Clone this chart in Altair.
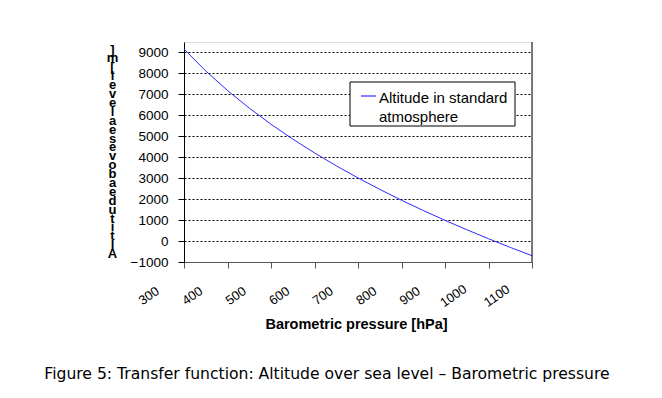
import altair as alt
import pandas as pd

# Data
pressure_hpa = [300, 350, 400, 450, 500, 550, 600, 650, 700, 750, 800, 850, 900, 950, 1000, 1050, 1100]
altitude_m = [9164, 8118, 7186, 6345, 5575, 4866, 4207, 3591, 3013, 2467, 1949, 1457, 989, 541, 111, -302, -698]
series_name = "Altitude in standard atmosphere"
legend_lines = ["Altitude in standard", "atmosphere"]
x_ticks = [300, 400, 500, 600, 700, 800, 900, 1000, 1100]
y_ticks = [-1000, 0, 1000, 2000, 3000, 4000, 5000, 6000, 7000, 8000, 9000]
y_title = "Altitude above sea level [m]"
x_title = "Barometric pressure [hPa]"
caption = "Figure 5: Transfer function: Altitude over sea level \u2013 Barometric pressure"

LINE_COLOR = "#2a2aff"
FONT = "Liberation Sans"

df = pd.DataFrame({"p": pressure_hpa, "h": altitude_m, "series": series_name})
tick_df = pd.DataFrame({"p": x_ticks, "lab": [str(v) for v in x_ticks]})

x_scale = alt.Scale(domain=[300, 1100], nice=False, zero=False)

x_enc = alt.X(
    "p:Q",
    scale=x_scale,
    axis=alt.Axis(
        values=x_ticks,
        title=x_title,
        titleFont=FONT, titleFontSize=14.5, titleFontWeight="bold", titleColor="#000",
        titleX=172, titleAlign="center", titleY=66, titleBaseline="alphabetic",
        labels=False,
        tickSize=6, tickColor="#555", domainColor="#555", grid=False,
    ),
)

y_enc = alt.Y(
    "h:Q",
    scale=alt.Scale(domain=[-1000, 9500], nice=False, zero=False),
    axis=alt.Axis(
        values=y_ticks, format="d",
        title=list(reversed(y_title)),
        titleAngle=0, titleX=-72, titleY=1, titleAlign="center", titleBaseline="top",
        titleLineHeight=8.9, titleFont=FONT, titleFontSize=13, titleFontWeight="bold", titleColor="#000",
        labelFont=FONT, labelFontSize=13.5, labelColor="#000", labelPadding=10,
        tickSize=6, tickColor="#000", domainColor="#000",
        grid=True, gridColor="#000", gridDash=[2, 2], gridWidth=1,
    ),
)

line = alt.Chart(df).mark_line(strokeWidth=1).encode(
    x=x_enc,
    y=y_enc,
    color=alt.Color("series:N", scale=alt.Scale(range=[LINE_COLOR]), legend=None),
)

xlabels = alt.Chart(tick_df).mark_text(
    font=FONT, fontSize=13, color="#000", angle=325, align="center", baseline="middle",
    xOffset=-35, yOffset=34,
).encode(x=alt.X("p:Q", scale=x_scale), y=alt.value(220), text="lab:N")

border = alt.Chart(pd.DataFrame({"p": [x_ticks[-1]]})).mark_rule(color="#000", strokeWidth=1).encode(
    x=alt.X("p:Q", scale=x_scale)
)

# legend box (drawn by hand so that the symbol sits on the first text line)
one = pd.DataFrame({"series": [series_name]})
leg_box = alt.Chart(one).mark_rect(fill="#fff", stroke="#000", strokeWidth=1).encode(
    x=alt.value(166), x2=alt.value(331), y=alt.value(40), y2=alt.value(84)
)
leg_sym = alt.Chart(one).mark_rule(color=LINE_COLOR, strokeWidth=1.2).encode(
    x=alt.value(177), x2=alt.value(192), y=alt.value(54)
)
leg_txt = alt.Chart(pd.DataFrame({"t": ["\n".join(legend_lines)]})).mark_text(
    font=FONT, fontSize=15, color="#000", align="left", baseline="alphabetic",
    lineBreak="\n", lineHeight=19,
).encode(text="t:N", x=alt.value(195), y=alt.value(61))

cap = alt.Chart(pd.DataFrame({"t": [caption]})).mark_text(
    font="DejaVu Sans", fontSize=15.6, color="#000", align="center", baseline="alphabetic"
).encode(text="t:N", x=alt.value(143), y=alt.value(337))

chart = alt.layer(line, border, xlabels, leg_box, leg_sym, leg_txt, cap).properties(
    width=348, height=220,
    autosize=alt.AutoSizeParams(type="none"),
    padding={"left": 176, "top": 34, "right": 122, "bottom": 128},
).configure_view(stroke=None).configure(background="#fff")

chart.save("out.html", embed_options={"renderer": "svg", "actions": False})
